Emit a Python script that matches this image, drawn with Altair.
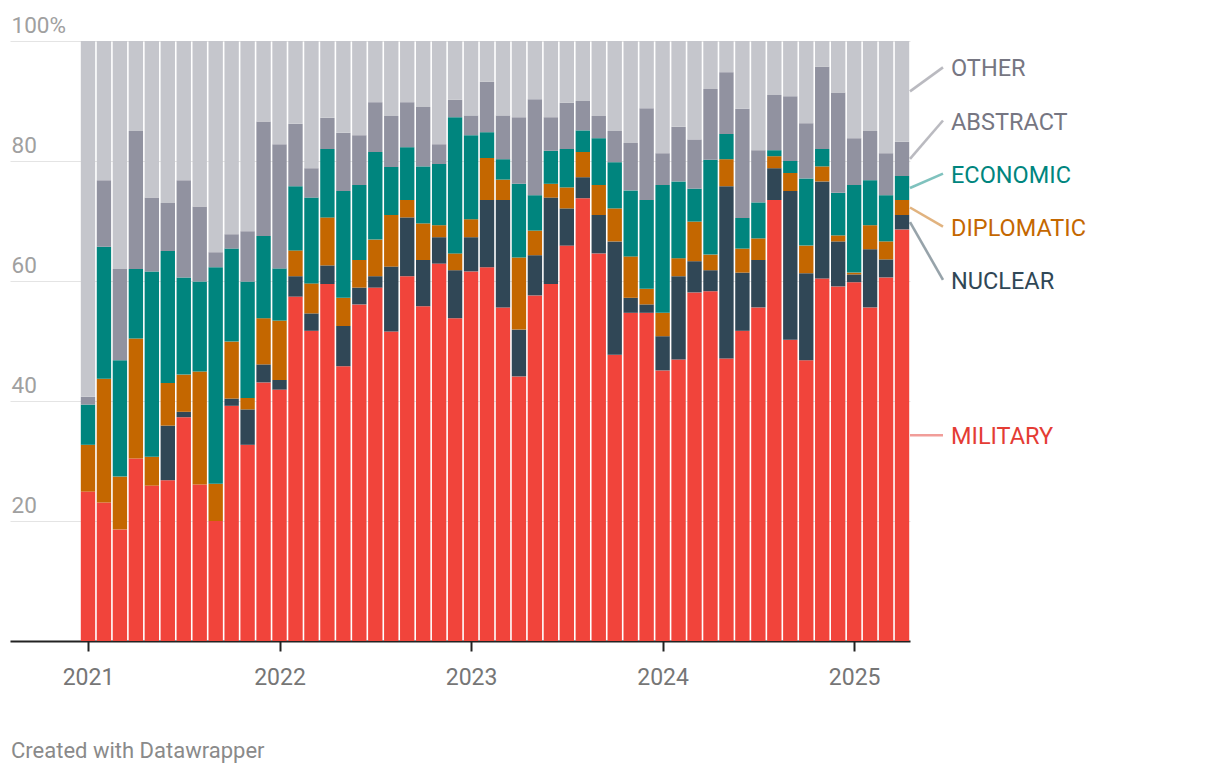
import altair as alt
import pandas as pd

# ---------------- data ----------------
year_labels = ["2021", "2022", "2023", "2024", "2025"]
categories = ["MILITARY", "NUCLEAR", "DIPLOMATIC", "ECONOMIC", "ABSTRACT", "OTHER"]

military = [24.9, 23.1, 18.6, 30.4, 25.9, 26.8, 37.3, 26.1, 20.0, 39.2, 32.7, 43.1, 41.9,
            57.4, 51.7, 59.5, 45.8, 56.1, 58.9, 51.6, 60.8, 55.8, 62.9, 53.8, 61.6, 62.3,
            55.6, 44.1, 57.6, 59.5, 65.9, 73.8, 64.6, 47.7, 54.7, 54.7, 45.1, 46.9, 58.1,
            58.3, 47.1, 51.7, 55.6, 73.5, 50.2, 46.8, 60.4, 59.1, 59.8, 55.6, 60.6, 68.6]
nuclear = [0, 0, 0, 0, 0, 9.1, 0.9, 0, 0, 1.2, 5.9, 3.0, 1.6,
           3.4, 2.9, 3.1, 6.7, 2.8, 1.9, 10.8, 9.8, 7.7, 4.4, 8.0, 5.7, 11.2,
           17.9, 7.8, 6.7, 14.4, 6.2, 3.5, 6.4, 18.9, 2.5, 1.4, 5.7, 13.9, 5.2,
           3.5, 28.7, 9.7, 7.9, 5.3, 24.8, 14.5, 16.2, 7.5, 1.3, 9.7, 3.0, 2.4]
diplomatic = [7.8, 20.6, 8.8, 20.0, 4.8, 7.1, 6.2, 18.8, 6.2, 9.5, 1.9, 7.7, 9.9,
              4.3, 5.0, 8.0, 4.7, 4.6, 6.1, 8.6, 2.9, 6.1, 2.0, 2.8, 3.0, 7.0,
              3.4, 12.0, 4.1, 2.3, 3.5, 4.2, 5.0, 5.5, 6.9, 2.6, 3.9, 3.0, 6.6,
              2.6, 4.5, 4.0, 3.6, 2.0, 3.0, 4.6, 2.5, 1.0, 0.3, 4.0, 3.0, 2.5]
economic = [6.7, 22.0, 19.4, 11.6, 30.9, 22.0, 16.2, 15.0, 36.1, 15.5, 19.4, 13.7, 8.7,
            10.7, 14.3, 11.4, 17.8, 12.5, 14.6, 8.0, 8.8, 9.5, 10.2, 22.7, 14.0, 4.3,
            3.4, 12.3, 5.9, 5.5, 6.4, 3.6, 7.8, 7.7, 11.0, 14.8, 21.3, 12.8, 5.5,
            15.8, 4.2, 5.1, 6.0, 1.0, 2.0, 11.2, 2.9, 7.1, 14.6, 7.5, 7.7, 4.0]
abstract = [1.3, 11.1, 15.2, 23.0, 12.3, 8.0, 16.2, 12.5, 2.5, 2.4, 8.4, 19.1, 20.7,
            10.4, 4.9, 5.2, 9.7, 8.3, 8.3, 8.5, 7.5, 9.9, 3.3, 2.9, 3.3, 8.4,
            7.3, 11.1, 16.0, 5.6, 7.7, 4.9, 3.7, 5.2, 7.9, 15.3, 5.3, 9.1, 8.2,
            11.8, 10.3, 18.2, 8.7, 9.2, 10.8, 9.2, 13.7, 16.7, 7.8, 8.2, 7.0, 5.7]
other = [59.3, 23.2, 38.0, 15.0, 26.1, 27.0, 23.2, 27.6, 35.2, 32.2, 31.7, 13.4, 17.2,
         13.8, 21.2, 12.8, 15.3, 15.7, 10.2, 12.5, 10.2, 11.0, 17.2, 9.8, 12.4, 6.8,
         12.4, 12.7, 9.7, 12.7, 10.3, 10.0, 12.5, 15.0, 17.0, 11.2, 18.7, 14.3, 16.4,
         8.0, 5.2, 11.3, 18.2, 9.0, 9.2, 13.7, 4.3, 8.6, 16.2, 15.0, 18.7, 16.8]

# ---------------- styles ----------------
bar_colors = ["#f1443b", "#304756", "#c46700", "#00857e", "#9192a0", "#c5c6cc"]
text_colors = ["#e43c34", "#304756", "#c46700", "#00857e", "#767682", "#767682"]
FONT = "Roboto"

series = [military, nuclear, diplomatic, economic, abstract, other]
n = len(military)

rows = []
for k, cat in enumerate(categories):
    for i in range(n):
        rows.append({"i": i, "cat": cat, "order": k, "value": series[k][i]})
df = pd.DataFrame(rows)

# label positions for the last bar (segment midpoints, then dodge overlapping labels)
last_vals = [s[-1] for s in series]
mids, acc = [], 0.0
for v in last_vals:
    mids.append(acc + v / 2)
    acc += v

gap = 8.85
order_desc = sorted(range(len(mids)), key=lambda k: -mids[k])
clusters = [[k] for k in order_desc]


def place(cl):
    c = sum(mids[k] for k in cl) / len(cl)
    top = c + gap * (len(cl) - 1) / 2
    return {k: top - gap * j for j, k in enumerate(cl)}


changed = True
while changed:
    changed = False
    for a in range(len(clusters) - 1):
        pa, pb = place(clusters[a]), place(clusters[a + 1])
        if pa[clusters[a][-1]] - pb[clusters[a + 1][0]] < gap:
            clusters[a] = clusters[a] + clusters[a + 1]
            del clusters[a + 1]
            changed = True
            break

label_y = {}
for cl in clusters:
    label_y.update(place(cl))

lab_df = pd.DataFrame({
    "cat": categories,
    "mid": mids,
    "label_y": [label_y[k] for k in range(len(categories))],
    "tcolor": text_colors,
})

# ---------------- scales & axes ----------------
xscale = alt.Scale(domain=[-4.886, n - 0.5], nice=False, zero=False)
yscale = alt.Scale(domain=[0, 100], nice=False)
tick_vals = [12 * j for j in range(len(year_labels))]
year_expr = str(year_labels) + "[round(datum.value / 12)]"

yaxis = alt.Axis(values=[0, 20, 40, 60, 80, 100],
                 labelExpr="datum.value == 100 ? '100%' : (datum.value == 0 ? '' : datum.label)",
                 grid=True, gridColor="#e4e4e4", gridWidth=1,
                 ticks=False, domain=False,
                 labelAlign="left", labelBaseline="alphabetic",
                 labelPadding=-1, labelOffset=-9,
                 labelFont=FONT, labelFontSize=22.5, labelColor="#a0a0a0",
                 labelOverlap=False, title=None)

xaxis = alt.Axis(values=tick_vals, labelExpr=year_expr, grid=False,
                 ticks=True, tickSize=10, tickWidth=2, tickColor="#222222",
                 domain=True, domainColor="#222222", domainWidth=2,
                 labelFont=FONT, labelFontSize=23, labelColor="#767676",
                 labelPadding=15, labelFlush=False, title=None)

bars = (
    alt.Chart(df)
    .transform_stack(stack="value", groupby=["i"], as_=["y0", "y1"],
                     sort=[alt.SortField("order", order="ascending")])
    .transform_calculate(x0="datum.i - 0.45", x1="datum.i + 0.45")
    .mark_bar(strokeWidth=0)
    .encode(
        x=alt.X("x0:Q", scale=xscale, axis=xaxis),
        x2="x1:Q",
        y=alt.Y("y0:Q", scale=yscale, axis=yaxis),
        y2="y1:Q",
        color=alt.Color("cat:N", scale=alt.Scale(domain=categories, range=bar_colors), legend=None),
    )
)

connectors = (
    alt.Chart(lab_df)
    .mark_rule(strokeWidth=2.6, opacity=0.5)
    .encode(
        x=alt.value(900),
        x2=alt.value(933),
        y=alt.Y("mid:Q", scale=yscale, axis=yaxis),
        y2="label_y:Q",
        color=alt.Color("tcolor:N", scale=None),
    )
)

labels = (
    alt.Chart(lab_df)
    .mark_text(align="left", baseline="middle", font=FONT, fontSize=23.5, dy=2)
    .encode(
        x=alt.value(941),
        y=alt.Y("label_y:Q", scale=yscale, axis=yaxis),
        text="cat:N",
        color=alt.Color("tcolor:N", scale=None),
    )
)

footer = (
    alt.Chart(pd.DataFrame({"t": ["Created with Datawrapper"]}))
    .mark_text(align="left", baseline="alphabetic", font=FONT, fontSize=22, color="#8a8a8a")
    .encode(x=alt.value(1), y=alt.value(717), text="t:N")
)

chart = (
    alt.layer(bars, connectors, labels, footer)
    .properties(width=900, height=600,
                background="white",
                autosize=alt.AutoSizeParams(type="none"),
                padding={"left": 2, "top": 33, "right": 300, "bottom": 125})
    .configure_view(strokeWidth=0, stroke="transparent")
)

chart.save("out.html", embed_options={"renderer": "svg", "actions": False})
